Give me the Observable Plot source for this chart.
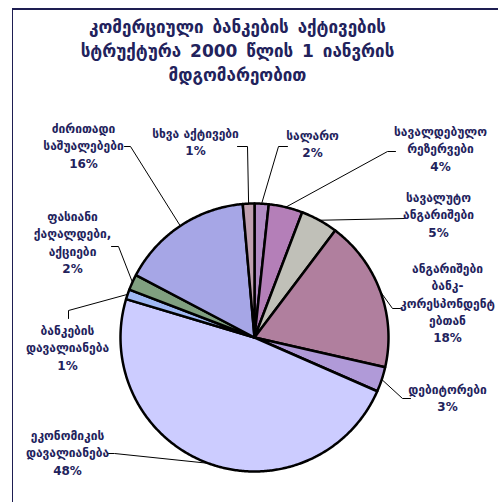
<!DOCTYPE html>
<html><head><meta charset="utf-8">
<script src="https://cdn.jsdelivr.net/npm/d3@7"></script>
<script src="https://cdn.jsdelivr.net/npm/@observablehq/plot@0.6"></script>
<style>
body{margin:0;background:#fff;width:498px;height:502px;overflow:hidden;position:relative;font-family:"DejaVu Sans";}
#chart{position:absolute;left:0;top:0;}
#frame{position:absolute;left:12px;top:8px;width:600px;height:600px;border-left:1.5px solid #1e1e52;border-top:2px solid #1e1e52;}
#title{position:absolute;left:0;width:475px;top:15px;text-align:center;font:bold 17px/24px "DejaVu Sans";color:#22225c;word-spacing:3px;}
</style></head><body>
<div id="chart"></div>
<div id="frame"></div>
<div id="title"></div>
<script>
// ---- data ----
const titleLines = ["კომერციული ბანკების აქტივების", "სტრუქტურა 2000 წლის 1 იანვრის", "მდგომარეობით"];
const categories = ["სალარო", "სავალდებულო რეზერვები", "სავალუტო ანგარიშები", "ანგარიშები ბანკ-კორესპონდენტებთან", "დებიტორები", "ეკონომიკის დავალიანება", "ბანკების დავალიანება", "ფასიანი ქაღალდები, აქციები", "ძირითადი საშუალებები", "სხვა აქტივები"];
const labelLines = ["სალარო", "სავალდებულო\nრეზერვები", "სავალუტო\nანგარიშები", "ანგარიშები\nბანკ-\nკორესპონდენტ\nებთან", "დებიტორები", "ეკონომიკის\nდავალიანება", "ბანკების\nდავალიანება", "ფასიანი\nქაღალდები,\nაქციები", "ძირითადი\nსაშუალებები", "სხვა აქტივები"];
const shares = [1.7, 4.1, 4.5, 18.3, 3.0, 48.1, 1.2, 1.9, 15.9, 1.4];
const percentLabels = ["2%", "4%", "5%", "18%", "3%", "48%", "1%", "2%", "16%", "1%"];

// ---- style / layout ----
const colors = ["#b28cc4", "#b47fb8", "#c0c0b8", "#b07f9e", "#b09ad8", "#ccccff", "#a0b8f4", "#80a080", "#a6a6e6", "#c0a0b0"];
const cx = 254, cy = 337, r = 134;
const labelPos = [[312,135],[440,131],[438,197],[447,268],[447,389],[67,435],[67,330],[72,216],[83,128],[195,133]];
const leaderPts = [
  [[287,146],[278,146]],
  [[395,151],[387,151]],
  [[404,218]],
  [[400,308],[392,308]],
  [[410,398],[402,398]],
  [[108,453],[114,453]],
  [[68,318],[68,310]],
  [[111,246],[118,246]],
  [[124,146],[130,146]],
  [[237,146],[247,146]]
];

document.getElementById("title").innerHTML = titleLines.join("<br>");

const arcs = d3.pie().sort(null).value(d => d)(shares);
const slicePts = [];
arcs.forEach((p, i) => {
  const name = categories[i];
  slicePts.push({name, x: cx, y: cy});
  const n = Math.max(2, Math.ceil((p.endAngle - p.startAngle) / 0.01));
  for (let k = 0; k <= n; k++) {
    const a = p.startAngle + (p.endAngle - p.startAngle) * k / n;
    slicePts.push({name, x: cx + r * Math.sin(a), y: cy - r * Math.cos(a)});
  }
  slicePts.push({name, x: cx, y: cy});
});

const leaders = [];
arcs.forEach((p, i) => {
  const m = (p.startAngle + p.endAngle) / 2;
  leaderPts[i].forEach(([x, y]) => leaders.push({i, x, y}));
  leaders.push({i, x: cx + r * Math.sin(m), y: cy - r * Math.cos(m)});
});

const labels = categories.map((c, i) => ({
  x: labelPos[i][0], y: labelPos[i][1] - 8,
  text: labelLines[i] + "\n" + percentLabels[i]
}));

const chart = Plot.plot({
  width: 498, height: 502, margin: 0,
  x: {type: "identity", axis: null},
  y: {type: "identity", axis: null},
  color: {domain: categories, range: colors},
  style: {background: "transparent", overflow: "visible"},
  marks: [
    Plot.line(leaders, {x: "x", y: "y", z: "i", stroke: "#000", strokeWidth: 1, curve: "linear"}),
    Plot.line(slicePts, {x: "x", y: "y", z: "name", fill: "name", stroke: "#000", strokeWidth: 2.5, strokeLinejoin: "round", curve: "linear"}),
    Plot.text(labels, {x: "x", y: "y", text: "text", lineAnchor: "top", lineHeight: 1.45, fontSize: 12, fontWeight: "bold", fill: "#22225c", fontFamily: "DejaVu Sans"})
  ]
});
document.getElementById("chart").appendChild(chart);
</script>
</body></html>
